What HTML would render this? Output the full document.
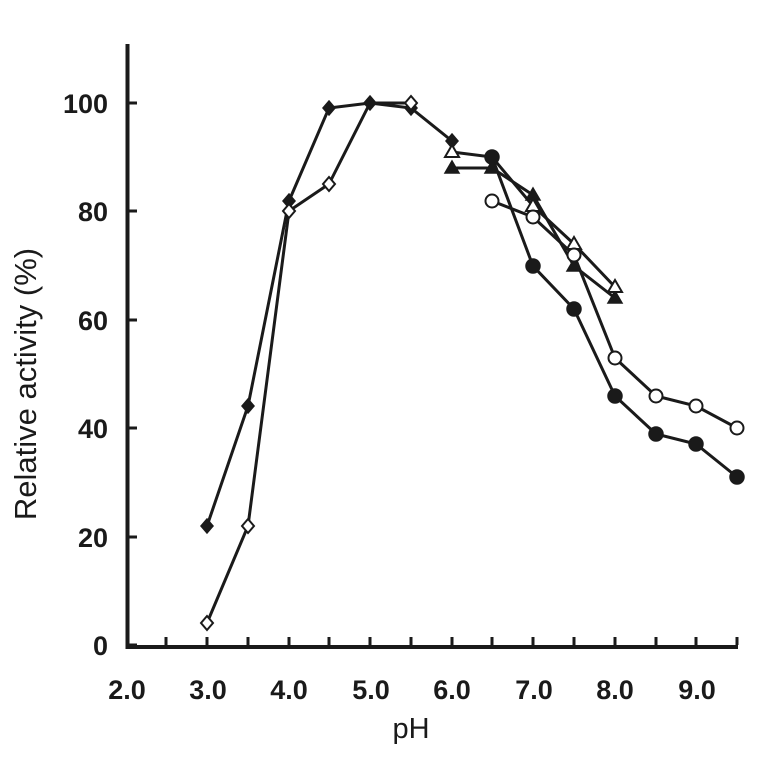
<!DOCTYPE html>
<html><head><style>body{margin:0;background:#fff}</style></head><body>
<svg width="762" height="762" viewBox="0 0 762 762" xmlns="http://www.w3.org/2000/svg">
<g stroke="#1a1a1a" stroke-width="4" fill="none">
<path d="M127.5 44 V647 H738"/>
</g>
<g stroke="#1a1a1a" stroke-width="3">
<path d="M127 645h10M127 537h10M127 428h10M127 320h10M127 211h10M127 103h10"/>
<path d="M166 645v-8M207 645v-8M248 645v-8M289 645v-8M329 645v-8M370 645v-8M411 645v-8M452 645v-8M492 645v-8M533 645v-8M574 645v-8M615 645v-8M656 645v-8M696 645v-8M737 645v-8"/>
</g>
<g font-family="Liberation Sans, sans-serif" font-weight="bold" font-size="27" fill="#1a1a1a" text-anchor="end">
<text x="108" y="655">0</text><text x="108" y="547">20</text><text x="108" y="438">40</text><text x="108" y="330">60</text><text x="108" y="221">80</text><text x="108" y="113">100</text>
</g>
<g font-family="Liberation Sans, sans-serif" font-weight="bold" font-size="27" fill="#1a1a1a" text-anchor="middle">
<text x="127" y="699">2.0</text><text x="208" y="699">3.0</text><text x="289" y="699">4.0</text><text x="371" y="699">5.0</text><text x="452" y="699">6.0</text><text x="534" y="699">7.0</text><text x="615" y="699">8.0</text><text x="697" y="699">9.0</text>
</g>
<text x="411" y="738" font-family="Liberation Sans, sans-serif" font-size="29" fill="#1a1a1a" text-anchor="middle">pH</text>
<text transform="translate(36,384) rotate(-90)" font-family="Liberation Sans, sans-serif" font-size="31" fill="#1a1a1a" text-anchor="middle">Relative activity (%)</text>
<g stroke="#1a1a1a" stroke-width="3" fill="none">
<polyline points="207,526 248,406 289,201 329,108 370,103 411,108 452,141"/>
<polyline points="207,623 248,526 289,211 329,184 370,103 411,103"/>
<polyline points="452,152 492,157 533,206 574,244 615,287"/>
<polyline points="452,168 492,168 533,195 574,266 615,298"/>
<polyline points="492,201 533,217 574,255 615,358 656,396 696,406 737,428"/>
<polyline points="492,157 533,266 574,309 615,396 656,434 696,444 737,477"/>
</g>
<g fill="#1a1a1a" stroke="#1a1a1a" stroke-width="1.5">
<path d="M207 519l6 7-6 7-6-7zM248 399l6 7-6 7-6-7zM289 194l6 7-6 7-6-7zM329 101l6 7-6 7-6-7zM370 96l6 7-6 7-6-7zM411 101l6 7-6 7-6-7zM452 134l6 7-6 7-6-7z"/>
<path d="M452 161l7 12h-14zM492 161l7 12h-14zM533 188l7 12h-14zM574 259l7 12h-14zM615 291l7 12h-14z"/>
<circle cx="492" cy="157" r="7"/><circle cx="533" cy="266" r="7"/><circle cx="574" cy="309" r="7"/><circle cx="615" cy="396" r="7"/><circle cx="656" cy="434" r="7"/><circle cx="696" cy="444" r="7"/><circle cx="737" cy="477" r="7"/>
</g>
<g fill="#fff" stroke="#1a1a1a" stroke-width="2">
<path d="M207 616l6 7-6 7-6-7zM248 519l6 7-6 7-6-7zM289 204l6 7-6 7-6-7zM329 177l6 7-6 7-6-7zM411 96l6 7-6 7-6-7z"/>
<path d="M452 145l7 12h-14zM533 199l7 12h-14zM574 237l7 12h-14zM615 280l7 12h-14z"/>
<circle cx="492" cy="201" r="6.5"/><circle cx="533" cy="217" r="6.5"/><circle cx="574" cy="255" r="6.5"/><circle cx="615" cy="358" r="6.5"/><circle cx="656" cy="396" r="6.5"/><circle cx="696" cy="406" r="6.5"/><circle cx="737" cy="428" r="6.5"/>
</g>
</svg>
</body></html>
